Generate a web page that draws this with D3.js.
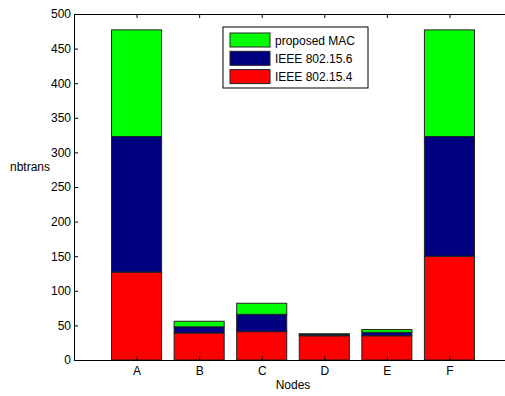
<!DOCTYPE html>
<html>
<head>
<meta charset="utf-8">
<script src="https://cdn.jsdelivr.net/npm/d3@7"></script>
<style>
  html, body { margin: 0; padding: 0; background: #fff; overflow: hidden; }
  text { font-family: "Liberation Sans", Arial, sans-serif; font-size: 12px; fill: #000; }
</style>
</head>
<body>
<div id="chart"></div>
<script>
// Data
var nodes = ["A", "B", "C", "D", "E", "F"];
var ieee154 = [127, 39, 41, 35, 35, 150];
var ieee156 = [196, 9, 25, 2, 5, 173];
var proposedMac = [154, 8, 16, 1, 4, 154];
var yTicks = [0, 50, 100, 150, 200, 250, 300, 350, 400, 450, 500];

var seriesNames = ["IEEE 802.15.4", "IEEE 802.15.6", "proposed MAC"];
var seriesColors = ["#ff0000", "#000080", "#00ff00"];

function drawStackedBars() {
    var width = 505, height = 396;
    var left = 74, top = 14, right = 512, bottom = 360;

    var svg = d3.select("#chart").append("svg")
        .attr("width", width)
        .attr("height", height);

    // x in MATLAB style: categories at 1..6, limits 0..7
    var x = d3.scaleLinear().domain([0, nodes.length + 1]).range([left, right]);
    var y = d3.scaleLinear().domain([0, 500]).range([bottom, top]);
    var barW = 0.8;

    // Build the stack table from the arrays
    var table = nodes.map(function(n, i) {
        return { node: n, i: i, s0: ieee154[i], s1: ieee156[i], s2: proposedMac[i] };
    });
    var stack = d3.stack().keys(["s0", "s1", "s2"]);
    var layers = stack(table);

    // Plot box background
    svg.append("rect")
        .attr("x", left).attr("y", top)
        .attr("width", right - left).attr("height", bottom - top)
        .attr("fill", "#fff");

    // Bars
    svg.selectAll("g.layer")
        .data(layers)
        .enter().append("g")
        .attr("class", "layer")
        .attr("fill", function(d, k) { return seriesColors[k]; })
        .selectAll("rect")
        .data(function(d) { return d; })
        .enter().append("rect")
        .attr("x", function(d) { return x(d.data.i + 1 - barW / 2); })
        .attr("width", function(d) { return x(barW) - x(0); })
        .attr("y", function(d) { return y(d[1]); })
        .attr("height", function(d) { return y(d[0]) - y(d[1]); })
        .attr("stroke", "#222")
        .attr("stroke-width", 1);

    // Axes (ticks inward like MATLAB)
    var yAxis = d3.axisLeft(y).tickValues(yTicks).tickSizeInner(-4).tickSizeOuter(0).tickPadding(3);
    var gy = svg.append("g").attr("transform", "translate(" + left + ",0)").call(yAxis);

    var xAxis = d3.axisBottom(x).tickValues(d3.range(1, nodes.length + 1))
        .tickFormat(function(d) { return nodes[d - 1]; })
        .tickSizeInner(-4).tickSizeOuter(0).tickPadding(6);
    var gx = svg.append("g").attr("transform", "translate(0," + bottom + ")").call(xAxis);

    var xTop = d3.axisTop(x).tickValues(d3.range(1, nodes.length + 1))
        .tickFormat("").tickSizeInner(-4).tickSizeOuter(0);
    var gt = svg.append("g").attr("transform", "translate(0," + top + ")").call(xTop);

    [gy, gx, gt].forEach(function(g) {
        g.selectAll("path.domain").attr("stroke", "#000");
        g.selectAll("line").attr("stroke", "#000");
        g.selectAll("text").style("font-family", "'Liberation Sans', Arial, sans-serif")
            .style("font-size", "12px").attr("fill", "#000");
    });

    // Axis labels
    svg.append("text")
        .attr("x", 10).attr("y", 171)
        .text("nbtrans");
    svg.append("text")
        .attr("x", 293).attr("y", 389)
        .attr("text-anchor", "middle")
        .text("Nodes");

    // Legend (top row is the last series)
    var lg = svg.append("g").attr("transform", "translate(223,27)");
    lg.append("rect")
        .attr("width", 145).attr("height", 61)
        .attr("fill", "#fff").attr("stroke", "#000");
    var order = [2, 1, 0];
    order.forEach(function(k, r) {
        var row = lg.append("g").attr("transform", "translate(7," + (6 + r * 18.3) + ")");
        row.append("rect")
            .attr("width", 40).attr("height", 14)
            .attr("fill", seriesColors[k]).attr("stroke", "#222");
        row.append("text")
            .attr("x", 45).attr("y", 11.5)
            .text(seriesNames[k]);
    });
}

drawStackedBars();
</script>
</body>
</html>
